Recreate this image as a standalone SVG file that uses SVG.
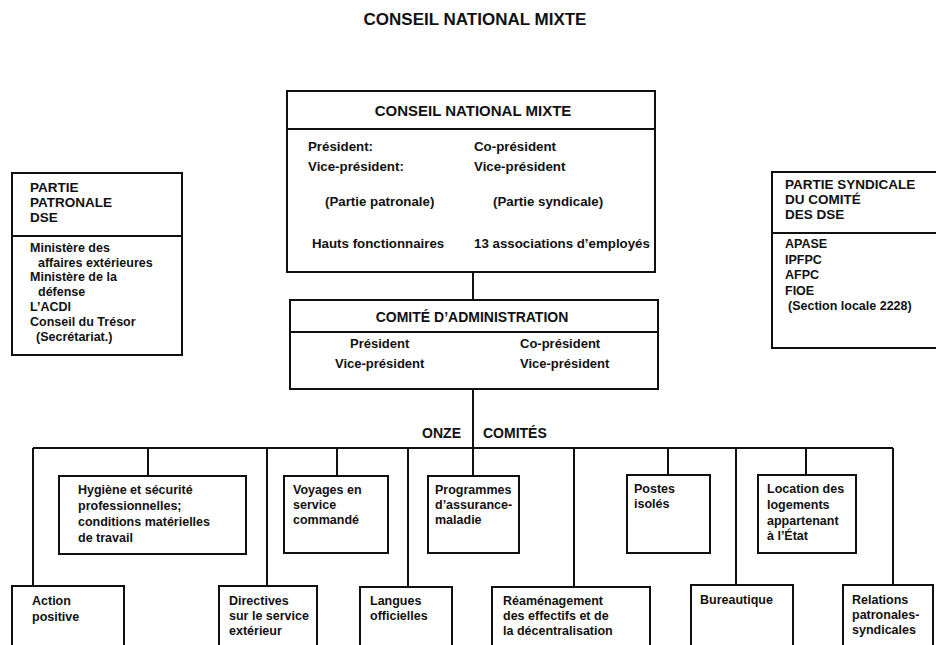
<svg xmlns="http://www.w3.org/2000/svg" width="936" height="645" viewBox="0 0 936 645">
<style>
text{font-family:"Liberation Sans",Arial,sans-serif;font-weight:bold;fill:#111;}
.t{font-size:17px;}
.h{font-size:15px;}
.hc{font-size:14px;}
.sh{font-size:13.5px;}
.b{font-size:12.5px;}
.m{font-size:13.3px;}
.c{font-size:13px;}
.o{font-size:14px;}
.box{fill:#fff;stroke:#111;stroke-width:2;}
.ln{stroke:#111;stroke-width:2;fill:none;}
</style>
<rect width="936" height="645" fill="#fff"/>
<text class="t" x="475" y="25" text-anchor="middle">CONSEIL NATIONAL MIXTE</text>

<g id="connectors">
<line class="ln" x1="473" y1="272" x2="473" y2="300"/>
<line class="ln" x1="473" y1="389" x2="473" y2="476"/>
<line class="ln" x1="33" y1="448" x2="893" y2="448"/>
<line class="ln" x1="33" y1="448" x2="33" y2="586"/>
<line class="ln" x1="148" y1="448" x2="148" y2="476"/>
<line class="ln" x1="267" y1="448" x2="267" y2="586"/>
<line class="ln" x1="337" y1="448" x2="337" y2="476"/>
<line class="ln" x1="408" y1="448" x2="408" y2="587"/>
<line class="ln" x1="574" y1="448" x2="574" y2="587"/>
<line class="ln" x1="668" y1="448" x2="668" y2="475"/>
<line class="ln" x1="736" y1="448" x2="736" y2="585"/>
<line class="ln" x1="806" y1="448" x2="806" y2="475"/>
<line class="ln" x1="893" y1="448" x2="893" y2="585"/>
<text class="o" x="461" y="438" text-anchor="end">ONZE</text>
<text class="o" x="483" y="438">COMITÉS</text>
</g>

<g id="partie-patronale">
<rect class="box" x="12" y="173" width="170" height="182"/>
<line class="ln" x1="12" y1="236" x2="182" y2="236"/>
<text class="sh" x="30" y="192">PARTIE</text>
<text class="sh" x="30" y="207">PATRONALE</text>
<text class="sh" x="30" y="222">DSE</text>
<text class="b" x="30" y="252">Ministère des</text>
<text class="b" x="38" y="267">affaires extérieures</text>
<text class="b" x="30" y="281">Ministère de la</text>
<text class="b" x="38" y="296">défense</text>
<text class="b" x="30" y="311">L’ACDI</text>
<text class="b" x="30" y="326">Conseil du Trésor</text>
<text class="b" x="36" y="341">(Secrétariat.)</text>
</g>

<g id="conseil-national-mixte">
<rect class="box" x="287" y="91" width="368" height="181"/>
<line class="ln" x1="287" y1="129" x2="655" y2="129"/>
<text class="h" x="473" y="116" text-anchor="middle">CONSEIL NATIONAL MIXTE</text>
<text class="m" x="308" y="151">Président:</text>
<text class="m" x="474" y="151">Co-président</text>
<text class="m" x="308" y="171">Vice-président:</text>
<text class="m" x="474" y="171">Vice-président</text>
<text class="m" x="325" y="206">(Partie patronale)</text>
<text class="m" x="493" y="206">(Partie syndicale)</text>
<text class="m" x="312" y="248">Hauts fonctionnaires</text>
<text class="m" x="474" y="248">13 associations d’employés</text>
</g>

<g id="partie-syndicale">
<rect class="box" x="772" y="172" width="170" height="176"/>
<line class="ln" x1="772" y1="233" x2="936" y2="233"/>
<text class="sh" x="785" y="189">PARTIE SYNDICALE</text>
<text class="sh" x="785" y="204">DU COMITÉ</text>
<text class="sh" x="785" y="219">DES DSE</text>
<text class="b" x="785" y="248">APASE</text>
<text class="b" x="785" y="264">IPFPC</text>
<text class="b" x="785" y="279">AFPC</text>
<text class="b" x="785" y="295">FIOE</text>
<text class="b" x="788" y="310">(Section locale 2228)</text>
</g>

<g id="comite-administration">
<rect class="box" x="290" y="300" width="368" height="89"/>
<line class="ln" x1="290" y1="332" x2="658" y2="332"/>
<text class="hc" x="472" y="322" text-anchor="middle">COMITÉ D’ADMINISTRATION</text>
<text class="c" x="350" y="348">Président</text>
<text class="c" x="520" y="348">Co-président</text>
<text class="c" x="335" y="368">Vice-président</text>
<text class="c" x="520" y="368">Vice-président</text>
</g>

<g id="hygiene">
<rect class="box" x="59" y="476" width="187" height="78"/>
<text class="b" x="78" y="494">Hygiène et sécurité</text>
<text class="b" x="78" y="510">professionnelles;</text>
<text class="b" x="78" y="526">conditions matérielles</text>
<text class="b" x="78" y="542">de travail</text>
</g>

<g id="voyages">
<rect class="box" x="284" y="476" width="104" height="77"/>
<text class="b" x="293" y="494">Voyages en</text>
<text class="b" x="293" y="509">service</text>
<text class="b" x="293" y="524">commandé</text>
</g>

<g id="programmes">
<rect class="box" x="428" y="476" width="91" height="77"/>
<text class="b" x="435" y="494">Programmes</text>
<text class="b" x="435" y="509">d’assurance-</text>
<text class="b" x="435" y="524">maladie</text>
</g>

<g id="postes">
<rect class="box" x="627" y="475" width="83" height="78"/>
<text class="b" x="634" y="493">Postes</text>
<text class="b" x="634" y="508">isolés</text>
</g>

<g id="location">
<rect class="box" x="758" y="475" width="98" height="78"/>
<text class="b" x="767" y="493">Location des</text>
<text class="b" x="767" y="509">logements</text>
<text class="b" x="767" y="525">appartenant</text>
<text class="b" x="767" y="540">à l’État</text>
</g>

<g id="action-positive">
<rect class="box" x="12" y="586" width="112" height="80"/>
<text class="b" x="32" y="605">Action</text>
<text class="b" x="32" y="621">positive</text>
</g>

<g id="directives">
<rect class="box" x="219" y="586" width="98" height="80"/>
<text class="b" x="229" y="605">Directives</text>
<text class="b" x="229" y="620">sur le service</text>
<text class="b" x="229" y="635">extérieur</text>
</g>

<g id="langues">
<rect class="box" x="360" y="587" width="92" height="80"/>
<text class="b" x="370" y="605">Langues</text>
<text class="b" x="370" y="620">officielles</text>
</g>

<g id="reamenagement">
<rect class="box" x="492" y="587" width="158" height="80"/>
<text class="b" x="503" y="605">Réaménagement</text>
<text class="b" x="503" y="620">des effectifs et de</text>
<text class="b" x="503" y="635">la décentralisation</text>
</g>

<g id="bureautique">
<rect class="box" x="691" y="585" width="102" height="80"/>
<text class="b" x="700" y="604">Bureautique</text>
</g>

<g id="relations">
<rect class="box" x="843" y="585" width="90" height="80"/>
<text class="b" x="852" y="604">Relations</text>
<text class="b" x="852" y="619">patronales-</text>
<text class="b" x="852" y="634">syndicales</text>
</g>
</svg>
